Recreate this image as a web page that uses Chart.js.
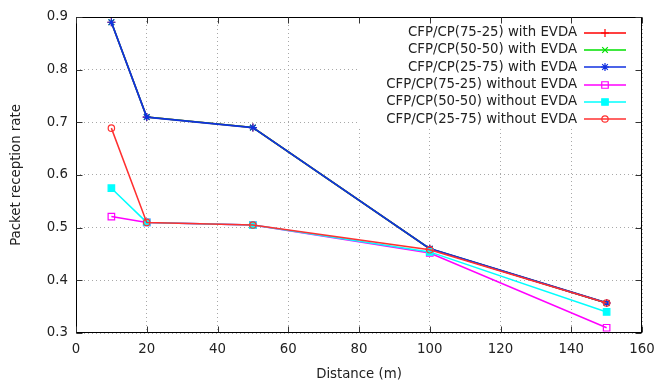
<!DOCTYPE html>
<html>
<head>
<meta charset="utf-8">
<script src="https://cdn.jsdelivr.net/npm/chart.js@4/dist/chart.umd.min.js"></script>
<style>
  html, body { margin: 0; padding: 0; background: #fff; }
  #wrap { width: 657px; height: 381px; }
</style>
</head>
<body>
<div id="wrap"><canvas id="prrChart" width="657" height="381"></canvas></div>
<script>
// distance on the x axis (m)
const distances = [10, 20, 50, 100, 150];

// packet reception rate
const withEvda7525 = [0.89, 0.71, 0.69, 0.46, 0.357];
const withEvda5050 = [0.89, 0.71, 0.69, 0.46, 0.357];
const withEvda2575 = [0.89, 0.71, 0.69, 0.46, 0.357];
const withoutEvda7525 = [0.521, 0.51, 0.505, 0.452, 0.31];
const withoutEvda5050 = [0.575, 0.51, 0.505, 0.454, 0.34];
const withoutEvda2575 = [0.689, 0.51, 0.505, 0.458, 0.357];

const seriesLabels = [
    'CFP/CP(75-25) with EVDA',
    'CFP/CP(50-50) with EVDA',
    'CFP/CP(25-75) with EVDA',
    'CFP/CP(75-25) without EVDA',
    'CFP/CP(50-50) without EVDA',
    'CFP/CP(25-75) without EVDA'
];

const xTicks = { min: 0, max: 160, step: 20 };
const yTicks = { min: 0.3, max: 0.9, step: 0.1 };

const FONT = { family: '"DejaVu Sans", sans-serif', size: 13.3 };
const TEXT = '#222';
const NONE = 'rgba(0,0,0,0)';

function pts(ys) {
    return ys.map((y, i) => ({ x: distances[i], y: y }));
}

const styles = [
    { color: '#ff0000', point: 'cross', r: 4, fill: false, width: 1.5 },
    { color: '#00e000', point: 'crossRot', r: 4, fill: false, width: 1.5 },
    { color: '#1030e0', point: 'star', r: 4, fill: false, width: 1.8 },
    { color: '#ff00ff', point: 'rect', r: 4.6, fill: false, width: 1.5 },
    { color: '#00ffff', point: 'rect', r: 4.6, fill: true, width: 1.5 },
    { color: '#ff3030', point: 'circle', r: 3.2, fill: false, width: 1.5 }
];

const allSeries = [withEvda7525, withEvda5050, withEvda2575, withoutEvda7525, withoutEvda5050, withoutEvda2575];

const datasets = allSeries.map((ys, i) => {
    const s = styles[i];
    return {
        label: seriesLabels[i],
        data: pts(ys),
        borderColor: s.color,
        backgroundColor: s.fill ? s.color : NONE,
        borderWidth: s.width,
        pointStyle: s.point,
        pointRadius: s.r,
        pointBorderWidth: 1.2,
        pointBorderColor: s.color,
        pointBackgroundColor: s.fill ? s.color : NONE,
        tension: 0,
        fill: false,
        order: allSeries.length - i   // later series drawn on top, like gnuplot
    };
});

// legend box + frame with inward ticks (gnuplot look)
const gnuplotFrame = {
    id: 'gnuplotFrame',
    beforeDatasetsDraw(chart) {
        const ctx = chart.ctx;
        const a = chart.chartArea;
        ctx.save();
        ctx.fillStyle = '#fff';
        ctx.fillRect(359, a.top, a.right - 359, 127 - a.top);
        ctx.restore();
    },
    afterDraw(chart) {
        const ctx = chart.ctx;
        const a = chart.chartArea;
        const xs = chart.scales.x;
        const ys = chart.scales.y;
        ctx.save();

        // legend entries
        ctx.font = FONT.size + 'px ' + FONT.family;
        ctx.textAlign = 'right';
        ctx.textBaseline = 'middle';
        chart.data.datasets.forEach((ds, i) => {
            const y = 32.7 + i * 17.3;
            const ly = Math.round(y);
            ctx.fillStyle = TEXT;
            ctx.fillText(ds.label, 577, y);
            ctx.strokeStyle = ds.borderColor;
            ctx.lineWidth = 1.5;
            ctx.beginPath();
            ctx.moveTo(584, ly);
            ctx.lineTo(626, ly);
            ctx.stroke();
            ctx.fillStyle = ds.pointBackgroundColor;
            ctx.strokeStyle = ds.pointBorderColor;
            ctx.lineWidth = 1.2;
            Chart.helpers.drawPoint(ctx, {
                pointStyle: ds.pointStyle,
                radius: ds.pointRadius,
                borderWidth: 1.2,
                rotation: 0
            }, 605, ly);
        });

        // frame
        ctx.strokeStyle = '#000';
        ctx.lineWidth = 1;
        const L = Math.round(a.left) + 0.5, R = Math.round(a.right) - 0.5;
        const T = Math.round(a.top) + 0.5, B = Math.round(a.bottom) - 0.5;
        ctx.strokeRect(L, T, R - L, B - T);

        // inward ticks on all four sides
        ctx.strokeStyle = '#333';
        const len = 6;
        ctx.beginPath();
        for (let v = xTicks.min; v <= xTicks.max; v += xTicks.step) {
            const px = Math.round(xs.getPixelForValue(v)) + 0.5;
            ctx.moveTo(px, B); ctx.lineTo(px, B - len);
            ctx.moveTo(px, T); ctx.lineTo(px, T + len);
        }
        for (let k = 0; k <= 6; k++) {
            const v = yTicks.min + k * yTicks.step;
            const py = Math.round(ys.getPixelForValue(v)) + 0.5;
            ctx.moveTo(L, py); ctx.lineTo(L + len, py);
            ctx.moveTo(R, py); ctx.lineTo(R - len, py);
        }
        ctx.stroke();
        ctx.restore();
    }
};

new Chart(document.getElementById('prrChart').getContext('2d'), {
    type: 'line',
    data: { datasets: datasets },
    options: {
        responsive: false,
        animation: false,
        layout: { padding: { top: 17, right: 15, bottom: 0, left: 0 } },
        plugins: {
            legend: { display: false },
            tooltip: { enabled: false }
        },
        scales: {
            x: {
                type: 'linear',
                min: xTicks.min,
                max: xTicks.max,
                ticks: { stepSize: xTicks.step, color: TEXT, font: FONT, padding: 9, maxRotation: 0 },
                grid: { color: '#a8a8a8', lineWidth: 1, drawTicks: false },
                border: { display: false, dash: [1, 3] },
                title: {
                    display: true, text: 'Distance (m)', color: TEXT,
                    font: { family: FONT.family, size: FONT.size, lineHeight: 1.0 },
                    padding: { top: 0, bottom: 0 }
                },
                afterFit(scale) {
                    scale.height = 48;
                    scale.paddingLeft = 0;
                    scale.paddingRight = 0;
                }
            },
            y: {
                type: 'linear',
                min: yTicks.min,
                max: yTicks.max,
                ticks: {
                    stepSize: yTicks.step, color: TEXT, font: FONT, padding: 8,
                    callback: v => Number(v).toFixed(1)
                },
                grid: { color: '#a8a8a8', lineWidth: 1, drawTicks: false },
                border: { display: false, dash: [1, 3] },
                title: { display: true, text: 'Packet reception rate', color: TEXT, font: FONT, padding: { top: 9, bottom: 0 } },
                afterFit(scale) {
                    scale.width = 76;
                    scale.paddingTop = 0;
                    scale.paddingBottom = 0;
                }
            }
        }
    },
    plugins: [gnuplotFrame]
});
</script>
</body>
</html>
